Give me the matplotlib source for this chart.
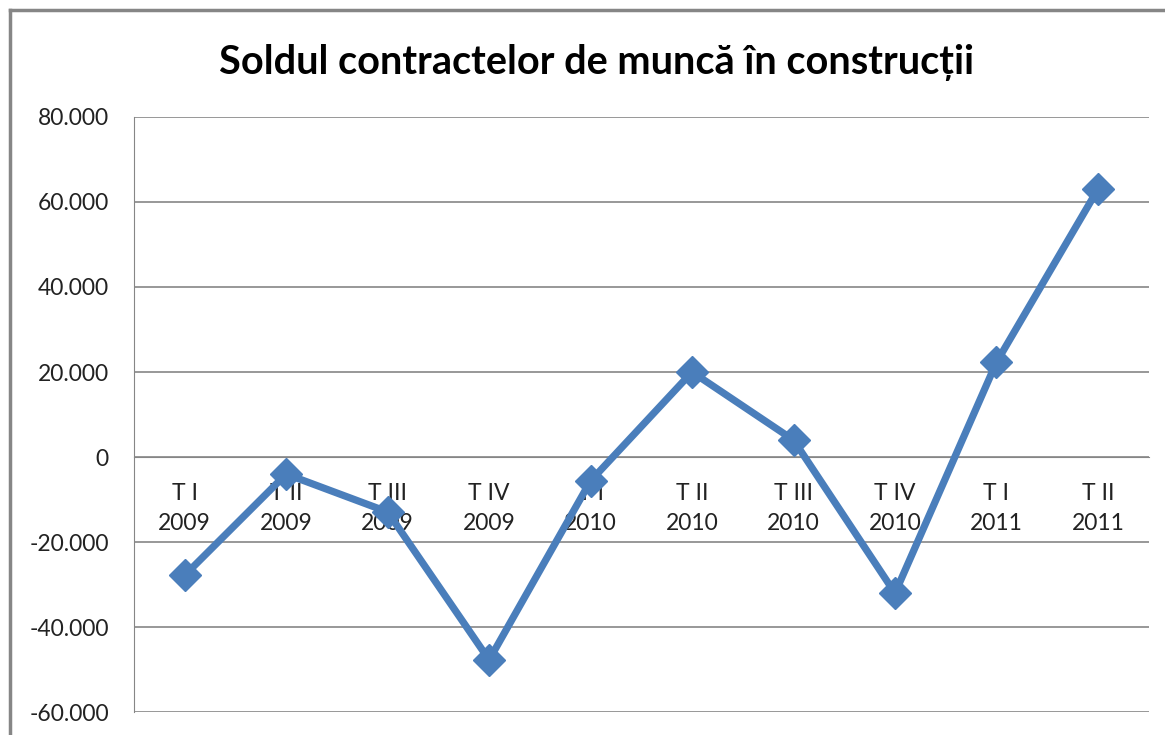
import matplotlib.pyplot as plt
from matplotlib.lines import Line2D
from matplotlib.ticker import FuncFormatter

quarters = ["T I\n2009", "T II\n2009", "T III\n2009", "T IV\n2009",
            "T I\n2010", "T II\n2010", "T III\n2010", "T IV\n2010",
            "T I\n2011", "T II\n2011"]
sold = [-27800, -4000, -12900, -47700, -5600, 20000, 4000, -32000, 22300, 63000]
yticks = [-60000, -40000, -20000, 0, 20000, 40000, 60000, 80000]

plt.rcParams["font.family"] = ["Lato", "DejaVu Sans"]

fig = plt.figure(figsize=(11.65, 7.35), dpi=100)
ax = fig.add_axes([0.115, 0.031, 0.871, 0.810])

x = list(range(len(sold)))
ax.plot(x, sold, color="#4A7EBB", lw=5.2, marker="D", markersize=16,
        markerfacecolor="#4A7EBB", markeredgecolor="#4A7EBB", zorder=3,
        solid_joinstyle="miter")

ax.set_xlim(-0.5, len(sold) - 0.5)
ax.set_ylim(-60000, 80000)
ax.set_yticks(yticks)
ax.yaxis.set_major_formatter(FuncFormatter(lambda v, p: f"{int(v):,}".replace(",", ".")))
ax.grid(axis="y", color="#868686", lw=1.2)
ax.set_axisbelow(True)

ax.spines["bottom"].set_position(("data", 0))
for s in ["top", "right"]:
    ax.spines[s].set_visible(False)
ax.spines["bottom"].set_color("#868686")
ax.spines["left"].set_color("#868686")
ax.set_xticks(x)
ax.set_xticklabels(quarters, linespacing=1.5)
ax.tick_params(axis="x", length=0, pad=19, labelsize=16.5, labelcolor="#222222")
ax.tick_params(axis="y", length=0, pad=18, labelsize=16.5, labelcolor="#222222")

fig.text(0.512, 0.915, "Soldul contractelor de muncă în construcții",
         ha="center", va="center", fontsize=28.5, fontweight="bold")

# outer chart frame (left and top edges visible)
fig.add_artist(Line2D([0.0085, 0.0085], [0.0, 0.986], transform=fig.transFigure,
                      color="#868686", lw=2.5))
fig.add_artist(Line2D([0.0085, 1.0], [0.986, 0.986], transform=fig.transFigure,
                      color="#868686", lw=2.5))

fig.savefig("out.png", dpi=100)
